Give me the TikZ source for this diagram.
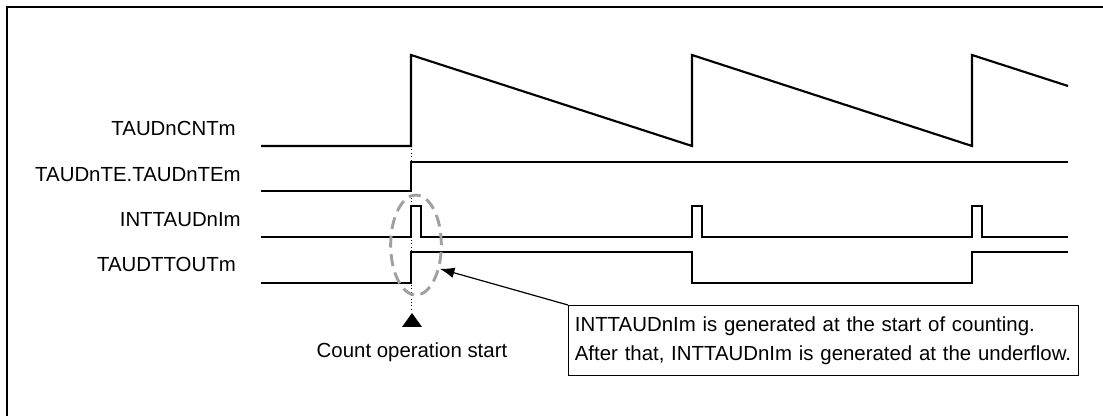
\documentclass[tikz,border=0pt]{standalone}
\usepackage{fontspec}
\setmainfont{Liberation Sans}
\usepackage{tikz}
\usetikzlibrary{
    arrows.meta,
    positioning,
    shapes.geometric
}
\usepackage{xcolor}
\definecolor{markgray}{RGB}{160,160,160}

\begin{document}
\begin{tikzpicture}[
        x=0.75pt, y=-0.75pt,
        sig/.style={
            line width=1.6pt,
            line join=miter
        },
        siglabel/.style={
            font=\fontsize{15.3}{18}\selectfont,
            inner sep=0pt
        },
        circmark/.style={
            ellipse,
            draw=markgray,
            line width=2.2pt,
            dash pattern=on 9pt off 5pt,
            minimum width=38pt,
            minimum height=75pt,
            inner sep=0pt
        },
        note/.style={
            draw,
            line width=0.8pt,
            align=left,
            text width=373pt,
            inner xsep=4.75pt,
            minimum height=52.5pt,
            font=\fontsize{15.3}{21.75}\selectfont
        }
    ]
    \useasboundingbox (0,0) rectangle (1103,416);
    \clip (0,0) rectangle (1103,416);

    % frame
    \draw[line width=1.5pt] (7,7) rectangle (1120,430);

    % start marker
    \draw[line width=0.6pt, dotted] (411,146) -- (411,311);
    \fill (402,327) -- (412,313) -- (422,327) -- cycle;

    % signal names
    \node[siglabel, anchor=base east] (lblcnt) at (236,136) {TAUDnCNTm};
    \node[siglabel, anchor=base east] (lblte) at (241,182) {TAUDnTE.TAUDnTEm};
    \node[siglabel, anchor=base east] (lblint) at (241,227) {INTTAUDnIm};
    \node[siglabel, anchor=base east] (lblout) at (236,272) {TAUDTTOUTm};

    % waveforms
    \draw[sig] (261,146) -- (411,146) -- (411,55) -- (692,146) -- (692,55)
        -- (972,146) -- (972,55) -- (1068,86);
    \draw[sig] (261,191) -- (411,191) -- (411,162) -- (1068,162);
    \draw[sig] (261,237) -- (411,237) -- (411,206) -- (421,206) -- (421,237)
        -- (692,237) -- (692,206) -- (702,206) -- (702,237)
        -- (972,237) -- (972,206) -- (982,206) -- (982,237) -- (1068,237);
    \draw[sig] (261,283) -- (411,283) -- (411,252) -- (692,252) -- (692,283)
        -- (972,283) -- (972,252) -- (1068,252);

    \node[siglabel, anchor=base] (startlbl) at (412,358) {Count operation start};

    \node[circmark] (mark) at (416,245) {};

    \node[note, anchor=north west] (note) at (568,305) {INTTAUDnIm is generated at the start of counting.\\
        After that, INTTAUDnIm is generated at the underflow.};

    \draw[line width=0.9pt, -{Latex[length=11pt,width=8pt]}] (note.north west) -- (mark.-45);

\end{tikzpicture}
\end{document}
